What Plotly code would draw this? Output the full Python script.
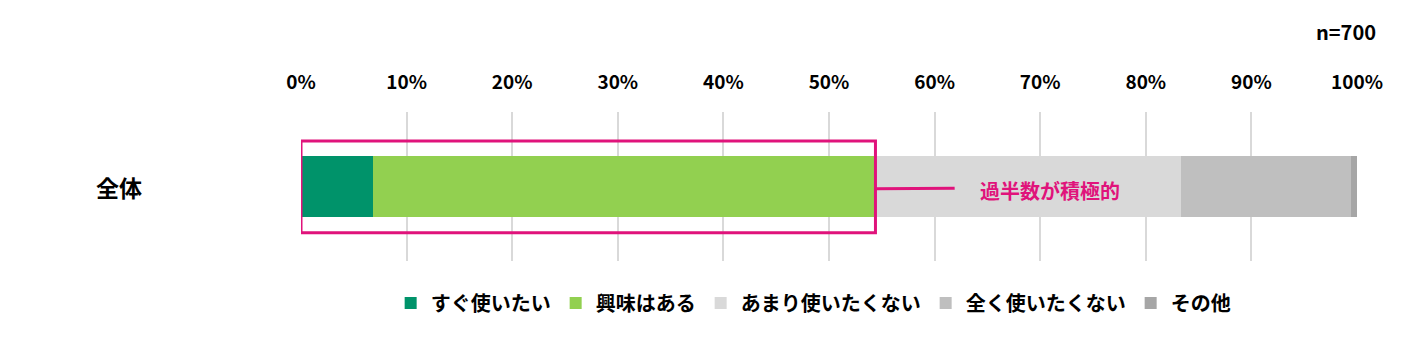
import plotly.graph_objects as go

categories = ["全体"]
series_names = ["すぐ使いたい", "興味はある", "あまり使いたくない", "全く使いたくない", "その他"]
series_values = [6.8, 47.6, 28.9, 16.1, 0.6]
colors = ["#00936a", "#92d050", "#d9d9d9", "#bfbfbf", "#a6a6a6"]
tick_vals = [0, 10, 20, 30, 40, 50, 60, 70, 80, 90, 100]
tick_text = [f"{v}%" for v in tick_vals]
note_text = "過半数が積極的"
n_text = "n=700"

FONT = "Noto Sans CJK JP"
PINK = "#e0137b"

fig = go.Figure()
for name, val, col in zip(series_names, series_values, colors):
    fig.add_trace(go.Bar(
        y=categories, x=[val], name=name, orientation="h",
        marker=dict(color=col, line=dict(width=0)), width=0.403,
        hoverinfo="x+name",
    ))

highlight = series_values[0] + series_values[1]

fig.add_shape(type="rect", xref="x", yref="y", x0=0, x1=highlight, y0=-0.31, y1=0.305,
              line=dict(color=PINK, width=3), fillcolor="rgba(0,0,0,0)", layer="above")
fig.add_shape(type="line", xref="x", yref="y", x0=highlight, x1=61.9, y0=-0.015, y1=-0.012,
              line=dict(color=PINK, width=3), layer="above")
fig.add_annotation(x=64.1, y=-0.03, xref="x", yref="y", text=note_text, showarrow=False,
                   xanchor="left", yanchor="middle",
                   font=dict(family=FONT, size=20, color=PINK, weight="bold"))
fig.add_annotation(x=-0.172, y=0, xref="paper", yref="y", text=categories[0], showarrow=False,
                   xanchor="center", yanchor="middle",
                   font=dict(family=FONT, size=23, color="#000000", weight="bold"))
fig.add_annotation(x=1.0199, y=1.537, xref="paper", yref="paper", text=n_text, showarrow=False,
                   xanchor="right", yanchor="middle",
                   font=dict(family=FONT, size=20, color="#000000", weight="bold"))

fig.update_layout(
    barmode="stack",
    width=1408, height=338,
    margin=dict(l=301, r=51, t=112, b=77),
    paper_bgcolor="white", plot_bgcolor="white",
    font=dict(family=FONT, color="#000000"),
    xaxis=dict(range=[0, 100], side="top", tickvals=tick_vals, ticktext=tick_text,
               showgrid=True, gridcolor="#d9d9d9", gridwidth=2, zeroline=False,
               ticks="", ticklabelstandoff=18, showline=False,
               tickfont=dict(family=FONT, size=19, color="#000000", weight="bold")),
    yaxis=dict(range=[-0.5, 0.5], showticklabels=False, showgrid=False, zeroline=False,
               type="category"),
    legend=dict(orientation="h", x=0.485, xanchor="center", y=-0.282, yanchor="middle",
                font=dict(family=FONT, size=20, color="#000000", weight="bold"),
                itemwidth=30, traceorder="normal"),
    showlegend=True,
)

fig.write_html("out.html")
